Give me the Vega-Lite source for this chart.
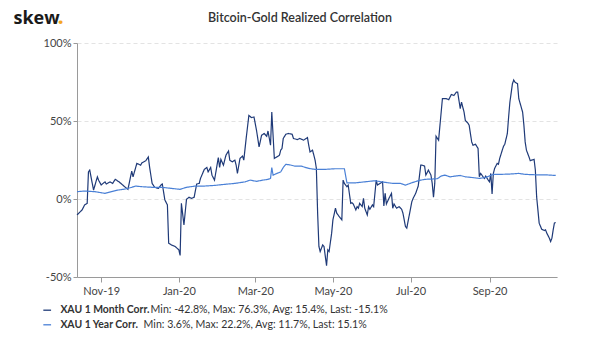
{
"$schema": "https://vega.github.io/schema/vega-lite/v6.json",
"width": 480, "height": 234,
"autosize": {"type": "none"},
"padding": {"left": 77, "top": 43, "right": 43, "bottom": 60},
"background": "white",
"config": {"font": "Lato", "view": {"stroke": null}},
"title": {"text": "Bitcoin-Gold Realized Correlation", "anchor": "middle", "frame": "group", "dx": -17, "dy": 35, "offset": 16, "fontSize": 12.5, "fontWeight": 600, "color": "#333333", "font": "Lato"},
"datasets": {
"meta": [
{"s": "M", "name": "XAU 1 Month Corr.", "stats": "Min: -42.8%, Max: 76.3%, Avg: 15.4%, Last: -15.1%"},
{"s": "Y", "name": "XAU 1 Year Corr.", "stats": "Min: 3.6%, Max: 22.2%, Avg: 11.7%, Last: 15.1%"}
]},
"data": {"values": [
{"d":"2019-10-13","s":"M","v":-10.2},{"d":"2019-10-17","s":"M","v":-7},{"d":"2019-10-19","s":"M","v":-3.8},{"d":"2019-10-21","s":"M","v":-2.8},{"d":"2019-10-22","s":"M","v":17.4},{"d":"2019-10-23","s":"M","v":18.5},{"d":"2019-10-26","s":"M","v":5.7},{"d":"2019-10-29","s":"M","v":14.2},{"d":"2019-10-30","s":"M","v":12},
{"d":"2019-11-01","s":"M","v":9},{"d":"2019-11-04","s":"M","v":11},{"d":"2019-11-05","s":"M","v":9.6},{"d":"2019-11-08","s":"M","v":11},{"d":"2019-11-10","s":"M","v":10},{"d":"2019-11-12","s":"M","v":12.6},{"d":"2019-11-15","s":"M","v":11},{"d":"2019-11-17","s":"M","v":9.6},{"d":"2019-11-20","s":"M","v":7.5},{"d":"2019-11-22","s":"M","v":6.2},{"d":"2019-11-25","s":"M","v":17.9},{"d":"2019-11-26","s":"M","v":14.2},{"d":"2019-11-29","s":"M","v":22.8},
{"d":"2019-12-02","s":"M","v":21.7},{"d":"2019-12-03","s":"M","v":23.2},{"d":"2019-12-06","s":"M","v":24.5},{"d":"2019-12-08","s":"M","v":27},{"d":"2019-12-09","s":"M","v":20.6},{"d":"2019-12-11","s":"M","v":10},{"d":"2019-12-13","s":"M","v":7.5},{"d":"2019-12-16","s":"M","v":6.8},{"d":"2019-12-18","s":"M","v":9},{"d":"2019-12-19","s":"M","v":9.6},{"d":"2019-12-21","s":"M","v":-0.6},{"d":"2019-12-23","s":"M","v":-3.8},{"d":"2019-12-24","s":"M","v":-28.3},{"d":"2019-12-26","s":"M","v":-29.4},{"d":"2019-12-29","s":"M","v":-30.4},
{"d":"2020-01-01","s":"M","v":-32.6},{"d":"2020-01-02","s":"M","v":-36.2},{"d":"2020-01-03","s":"M","v":-2.8},{"d":"2020-01-05","s":"M","v":-16.6},{"d":"2020-01-07","s":"M","v":-0.2},{"d":"2020-01-09","s":"M","v":1.1},{"d":"2020-01-11","s":"M","v":0.4},{"d":"2020-01-13","s":"M","v":1.1},{"d":"2020-01-15","s":"M","v":9.6},{"d":"2020-01-17","s":"M","v":10},{"d":"2020-01-18","s":"M","v":13.2},{"d":"2020-01-21","s":"M","v":19},{"d":"2020-01-23","s":"M","v":20.2},{"d":"2020-01-24","s":"M","v":17.4},{"d":"2020-01-26","s":"M","v":20.2},{"d":"2020-01-27","s":"M","v":15.3},{"d":"2020-01-29","s":"M","v":12.1},
{"d":"2020-02-01","s":"M","v":26.6},{"d":"2020-02-02","s":"M","v":20.2},{"d":"2020-02-03","s":"M","v":25.4},{"d":"2020-02-05","s":"M","v":21.7},{"d":"2020-02-07","s":"M","v":28.1},{"d":"2020-02-09","s":"M","v":30.8},{"d":"2020-02-10","s":"M","v":24.9},{"d":"2020-02-12","s":"M","v":23.8},{"d":"2020-02-14","s":"M","v":24.9},{"d":"2020-02-15","s":"M","v":21.7},{"d":"2020-02-16","s":"M","v":16.4},{"d":"2020-02-18","s":"M","v":26},{"d":"2020-02-20","s":"M","v":27.5},{"d":"2020-02-21","s":"M","v":24.9},{"d":"2020-02-23","s":"M","v":39.8},{"d":"2020-02-25","s":"M","v":53.6},{"d":"2020-02-27","s":"M","v":52.2},{"d":"2020-02-29","s":"M","v":52.6},
{"d":"2020-03-02","s":"M","v":44},{"d":"2020-03-04","s":"M","v":33.4},{"d":"2020-03-06","s":"M","v":40.9},{"d":"2020-03-08","s":"M","v":42},{"d":"2020-03-10","s":"M","v":40.2},{"d":"2020-03-11","s":"M","v":43.6},{"d":"2020-03-13","s":"M","v":34.5},{"d":"2020-03-14","s":"M","v":55.7},{"d":"2020-03-16","s":"M","v":26},{"d":"2020-03-18","s":"M","v":27},{"d":"2020-03-20","s":"M","v":28.1},{"d":"2020-03-21","s":"M","v":31.3},{"d":"2020-03-22","s":"M","v":32.4},{"d":"2020-03-23","s":"M","v":38.8},{"d":"2020-03-25","s":"M","v":41.5},{"d":"2020-03-27","s":"M","v":42},{"d":"2020-03-30","s":"M","v":41.5},{"d":"2020-03-31","s":"M","v":38.8},
{"d":"2020-04-03","s":"M","v":38.1},{"d":"2020-04-05","s":"M","v":38.8},{"d":"2020-04-08","s":"M","v":37.7},{"d":"2020-04-11","s":"M","v":39.4},{"d":"2020-04-12","s":"M","v":34.5},{"d":"2020-04-13","s":"M","v":30.2},{"d":"2020-04-15","s":"M","v":31.3},{"d":"2020-04-17","s":"M","v":24.9},{"d":"2020-04-18","s":"M","v":19.6},{"d":"2020-04-19","s":"M","v":-9.1},{"d":"2020-04-20","s":"M","v":-30.4},{"d":"2020-04-21","s":"M","v":-33.7},{"d":"2020-04-23","s":"M","v":-29.4},{"d":"2020-04-24","s":"M","v":-30.4},{"d":"2020-04-26","s":"M","v":-42.8},{"d":"2020-04-27","s":"M","v":-32.6},{"d":"2020-04-28","s":"M","v":-33.7},{"d":"2020-04-30","s":"M","v":-21.9},
{"d":"2020-05-01","s":"M","v":-13.4},{"d":"2020-05-03","s":"M","v":-5.9},{"d":"2020-05-04","s":"M","v":-9.1},{"d":"2020-05-06","s":"M","v":-11.3},{"d":"2020-05-08","s":"M","v":-13.4},{"d":"2020-05-09","s":"M","v":12.1},{"d":"2020-05-10","s":"M","v":10},{"d":"2020-05-12","s":"M","v":7.9},{"d":"2020-05-13","s":"M","v":8.9},{"d":"2020-05-15","s":"M","v":-2.8},{"d":"2020-05-16","s":"M","v":-2.4},{"d":"2020-05-17","s":"M","v":-3.2},{"d":"2020-05-19","s":"M","v":-7},{"d":"2020-05-20","s":"M","v":-4.9},{"d":"2020-05-21","s":"M","v":-5.9},{"d":"2020-05-22","s":"M","v":-2.8},{"d":"2020-05-24","s":"M","v":-4.9},{"d":"2020-05-25","s":"M","v":0.4},{"d":"2020-05-26","s":"M","v":-5.9},{"d":"2020-05-28","s":"M","v":-10.2},{"d":"2020-05-29","s":"M","v":-4.9},{"d":"2020-05-30","s":"M","v":-6.6},
{"d":"2020-06-01","s":"M","v":-3.8},{"d":"2020-06-02","s":"M","v":-4.9},{"d":"2020-06-04","s":"M","v":12.1},{"d":"2020-06-05","s":"M","v":8.9},{"d":"2020-06-07","s":"M","v":10},{"d":"2020-06-09","s":"M","v":11},{"d":"2020-06-10","s":"M","v":-4.5},{"d":"2020-06-11","s":"M","v":3.6},{"d":"2020-06-12","s":"M","v":-3.2},{"d":"2020-06-14","s":"M","v":0.4},{"d":"2020-06-16","s":"M","v":3.6},{"d":"2020-06-17","s":"M","v":-5.9},{"d":"2020-06-18","s":"M","v":-3.2},{"d":"2020-06-20","s":"M","v":-5.9},{"d":"2020-06-22","s":"M","v":-4.9},{"d":"2020-06-24","s":"M","v":-6.6},{"d":"2020-06-25","s":"M","v":-9.1},{"d":"2020-06-27","s":"M","v":-17.7},{"d":"2020-06-28","s":"M","v":-18.7},{"d":"2020-06-30","s":"M","v":-10.2},
{"d":"2020-07-02","s":"M","v":-1.7},{"d":"2020-07-03","s":"M","v":0.4},{"d":"2020-07-05","s":"M","v":3.6},{"d":"2020-07-07","s":"M","v":8.3},{"d":"2020-07-09","s":"M","v":21.7},{"d":"2020-07-10","s":"M","v":21.7},{"d":"2020-07-12","s":"M","v":21.1},{"d":"2020-07-13","s":"M","v":15.3},{"d":"2020-07-15","s":"M","v":18.5},{"d":"2020-07-17","s":"M","v":15.3},{"d":"2020-07-18","s":"M","v":10},{"d":"2020-07-19","s":"M","v":1.1},{"d":"2020-07-20","s":"M","v":10},{"d":"2020-07-21","s":"M","v":40.2},{"d":"2020-07-23","s":"M","v":37.7},{"d":"2020-07-26","s":"M","v":64.3},{"d":"2020-07-29","s":"M","v":64.3},{"d":"2020-07-31","s":"M","v":63.7},
{"d":"2020-08-02","s":"M","v":67},{"d":"2020-08-04","s":"M","v":66.4},{"d":"2020-08-06","s":"M","v":68.5},{"d":"2020-08-07","s":"M","v":68.5},{"d":"2020-08-09","s":"M","v":57.9},{"d":"2020-08-10","s":"M","v":62.1},{"d":"2020-08-12","s":"M","v":55.7},{"d":"2020-08-13","s":"M","v":50.4},{"d":"2020-08-15","s":"M","v":48.7},{"d":"2020-08-16","s":"M","v":47.3},{"d":"2020-08-18","s":"M","v":36.6},{"d":"2020-08-19","s":"M","v":34.5},{"d":"2020-08-21","s":"M","v":35.1},{"d":"2020-08-23","s":"M","v":32.4},{"d":"2020-08-24","s":"M","v":14.2},{"d":"2020-08-25","s":"M","v":16.4},{"d":"2020-08-27","s":"M","v":14.2},{"d":"2020-08-28","s":"M","v":13.2},{"d":"2020-08-29","s":"M","v":14.7},{"d":"2020-08-31","s":"M","v":12.1},
{"d":"2020-09-01","s":"M","v":11},{"d":"2020-09-02","s":"M","v":16.4},{"d":"2020-09-03","s":"M","v":3.2},{"d":"2020-09-04","s":"M","v":16.4},{"d":"2020-09-05","s":"M","v":19.6},{"d":"2020-09-07","s":"M","v":22.8},{"d":"2020-09-08","s":"M","v":22.3},{"d":"2020-09-09","s":"M","v":26},{"d":"2020-09-11","s":"M","v":31.3},{"d":"2020-09-12","s":"M","v":33.8},{"d":"2020-09-13","s":"M","v":35.1},{"d":"2020-09-15","s":"M","v":42},{"d":"2020-09-16","s":"M","v":52.6},{"d":"2020-09-17","s":"M","v":62.1},{"d":"2020-09-19","s":"M","v":73.9},{"d":"2020-09-20","s":"M","v":76.3},{"d":"2020-09-21","s":"M","v":74.9},{"d":"2020-09-23","s":"M","v":73.9},{"d":"2020-09-24","s":"M","v":64.3},{"d":"2020-09-27","s":"M","v":55.7},{"d":"2020-09-28","s":"M","v":47.3},{"d":"2020-09-29","s":"M","v":36.6},{"d":"2020-09-30","s":"M","v":31.3},
{"d":"2020-10-02","s":"M","v":27},{"d":"2020-10-03","s":"M","v":24.5},{"d":"2020-10-04","s":"M","v":24.9},{"d":"2020-10-06","s":"M","v":25.4},{"d":"2020-10-07","s":"M","v":18.5},{"d":"2020-10-08","s":"M","v":1.5},{"d":"2020-10-10","s":"M","v":-15.5},{"d":"2020-10-12","s":"M","v":-19.4},{"d":"2020-10-14","s":"M","v":-20.2},{"d":"2020-10-15","s":"M","v":-19.8},{"d":"2020-10-16","s":"M","v":-21.9},{"d":"2020-10-18","s":"M","v":-25.1},{"d":"2020-10-19","s":"M","v":-27.3},{"d":"2020-10-20","s":"M","v":-25.1},{"d":"2020-10-21","s":"M","v":-19.8},{"d":"2020-10-22","s":"M","v":-15.3},{"d":"2020-10-23","s":"M","v":-15.1},
{"d":"2019-10-13","s":"Y","v":4.7},{"d":"2019-10-19","s":"Y","v":5.1},{"d":"2019-10-27","s":"Y","v":4.7},{"d":"2019-11-04","s":"Y","v":3.6},{"d":"2019-11-09","s":"Y","v":4.7},{"d":"2019-11-14","s":"Y","v":5.7},{"d":"2019-11-20","s":"Y","v":6.4},{"d":"2019-11-25","s":"Y","v":7.5},{"d":"2019-11-28","s":"Y","v":8.3},{"d":"2019-12-03","s":"Y","v":7.9},{"d":"2019-12-11","s":"Y","v":7.5},{"d":"2019-12-19","s":"Y","v":7.5},{"d":"2019-12-26","s":"Y","v":6.8},{"d":"2020-01-02","s":"Y","v":6.2},{"d":"2020-01-07","s":"Y","v":7.5},{"d":"2020-01-14","s":"Y","v":8.3},{"d":"2020-01-21","s":"Y","v":8.3},{"d":"2020-01-29","s":"Y","v":8.7},{"d":"2020-02-06","s":"Y","v":9.4},{"d":"2020-02-14","s":"Y","v":10},{"d":"2020-02-22","s":"Y","v":11},{"d":"2020-02-26","s":"Y","v":12.1},{"d":"2020-03-02","s":"Y","v":11.3},{"d":"2020-03-07","s":"Y","v":12.1},{"d":"2020-03-11","s":"Y","v":12.6},{"d":"2020-03-13","s":"Y","v":13.2},{"d":"2020-03-14","s":"Y","v":20.2},{"d":"2020-03-15","s":"Y","v":15.3},{"d":"2020-03-18","s":"Y","v":16.4},{"d":"2020-03-21","s":"Y","v":17.4},{"d":"2020-03-23","s":"Y","v":20.2},{"d":"2020-03-25","s":"Y","v":22.2},{"d":"2020-03-28","s":"Y","v":21.9},{"d":"2020-04-01","s":"Y","v":21.1},{"d":"2020-04-06","s":"Y","v":21.1},{"d":"2020-04-12","s":"Y","v":19.6},{"d":"2020-04-17","s":"Y","v":19},{"d":"2020-04-25","s":"Y","v":19},{"d":"2020-05-03","s":"Y","v":19.4},{"d":"2020-05-10","s":"Y","v":19.4},{"d":"2020-05-12","s":"Y","v":10.4},{"d":"2020-05-19","s":"Y","v":10.4},{"d":"2020-05-26","s":"Y","v":11},{"d":"2020-06-03","s":"Y","v":11.7},{"d":"2020-06-09","s":"Y","v":10.9},{"d":"2020-06-17","s":"Y","v":10},{"d":"2020-06-23","s":"Y","v":10},{"d":"2020-06-27","s":"Y","v":8.9},{"d":"2020-07-02","s":"Y","v":10.4},{"d":"2020-07-07","s":"Y","v":11.7},{"d":"2020-07-12","s":"Y","v":12.6},{"d":"2020-07-18","s":"Y","v":12.8},{"d":"2020-07-22","s":"Y","v":13},{"d":"2020-07-25","s":"Y","v":14.7},{"d":"2020-07-28","s":"Y","v":15.3},{"d":"2020-08-01","s":"Y","v":14.2},{"d":"2020-08-05","s":"Y","v":14.7},{"d":"2020-08-09","s":"Y","v":15.1},{"d":"2020-08-13","s":"Y","v":14.2},{"d":"2020-08-18","s":"Y","v":13.8},{"d":"2020-08-24","s":"Y","v":13.2},{"d":"2020-08-29","s":"Y","v":13.8},{"d":"2020-09-04","s":"Y","v":15.8},{"d":"2020-09-10","s":"Y","v":15.8},{"d":"2020-09-17","s":"Y","v":16},{"d":"2020-09-24","s":"Y","v":16.4},{"d":"2020-09-29","s":"Y","v":15.8},{"d":"2020-10-07","s":"Y","v":15.5},{"d":"2020-10-15","s":"Y","v":15.5},{"d":"2020-10-23","s":"Y","v":15.1}
]},
"transform": [{"lookup": "s", "from": {"data": {"name": "meta"}, "key": "s", "fields": ["name", "stats"]}}],
"mark": {"type": "line", "strokeWidth": 1.2},
"encoding": {
"x": {"field": "d", "type": "temporal",
 "scale": {"domain": [{"year": 2019, "month": 10, "date": 13}, {"year": 2020, "month": 10, "date": 24}]},
 "axis": {"title": ".", "titleColor": "#f5a623", "titleFontSize": 22, "titleFontWeight": "bold", "titleFont": "Open Sans", "titleX": -20, "titleY": -254, "titleAlign": "left", "titleAnchor": null, "titleBaseline": "alphabetic",
  "format": "%b-%y", "tickCount": {"interval": "month", "step": 2}, "grid": false, "domainColor": "#9a9a9a", "tickColor": "#9a9a9a", "tickSize": 5, "labelFontSize": 11, "labelColor": "#444444", "labelPadding": 3, "labelFlush": false}},
"y": {"field": "v", "type": "quantitative",
 "scale": {"domain": [-50, 100], "nice": false},
 "axis": {"title": "skew", "titleAngle": 0, "titleX": -64, "titleY": -20, "titleAlign": "left", "titleAnchor": null, "titleBaseline": "alphabetic", "titleFontSize": 18, "titleFontWeight": "bold", "titleFont": "Open Sans", "titleColor": "#1a1a1a",
  "values": [-50, 0, 50, 100], "labelExpr": "datum.value + '%'", "gridDash": [4, 3], "gridColor": "#e3e3e3", "domainColor": "#9a9a9a", "tickColor": "#9a9a9a", "tickSize": 4, "labelPadding": 2, "labelFontSize": 11, "labelColor": "#444444"}},
"color": {"field": "name", "type": "nominal",
 "scale": {"domain": ["XAU 1 Month Corr.", "XAU 1 Year Corr."], "range": ["#1f3a78", "#4a80d6"]},
 "legend": {"orient": "none", "legendX": -35, "legendY": 262, "title": null, "symbolType": "stroke", "symbolSize": 60, "symbolStrokeWidth": 1.3, "labelFontSize": 10.4, "labelFontWeight": "bold", "labelColor": "#333333", "rowPadding": 3.6, "labelOffset": 8}},
"strokeDash": {"field": "stats", "type": "nominal",
 "scale": {"domain": ["Min: -42.8%, Max: 76.3%, Avg: 15.4%, Last: -15.1%", "Min: 3.6%, Max: 22.2%, Avg: 11.7%, Last: 15.1%"], "range": [[1, 0], [1, 0]]},
 "legend": {"orient": "none", "legendX": 63, "legendY": 262, "values": ["Min: -42.8%, Max: 76.3%, Avg: 15.4%, Last: -15.1%"], "title": null, "symbolType": "stroke", "symbolSize": 60, "symbolOpacity": 0, "symbolStrokeColor": "transparent", "labelFontSize": 10.6, "labelColor": "#333333", "labelOffset": 0, "labelLimit": 400}},
"opacity": {"field": "s", "type": "nominal",
 "scale": {"domain": ["M", "Y"], "range": [1, 1]},
 "legend": {"orient": "none", "legendX": 56, "legendY": 276.6, "values": ["Y"], "labelExpr": "'Min: 3.6%, Max: 22.2%, Avg: 11.7%, Last: 15.1%'", "title": null, "symbolType": "stroke", "symbolSize": 60, "symbolOpacity": 0, "symbolStrokeColor": "transparent", "labelFontSize": 10.6, "labelColor": "#333333", "labelOffset": 0, "labelLimit": 400}}
}
}
